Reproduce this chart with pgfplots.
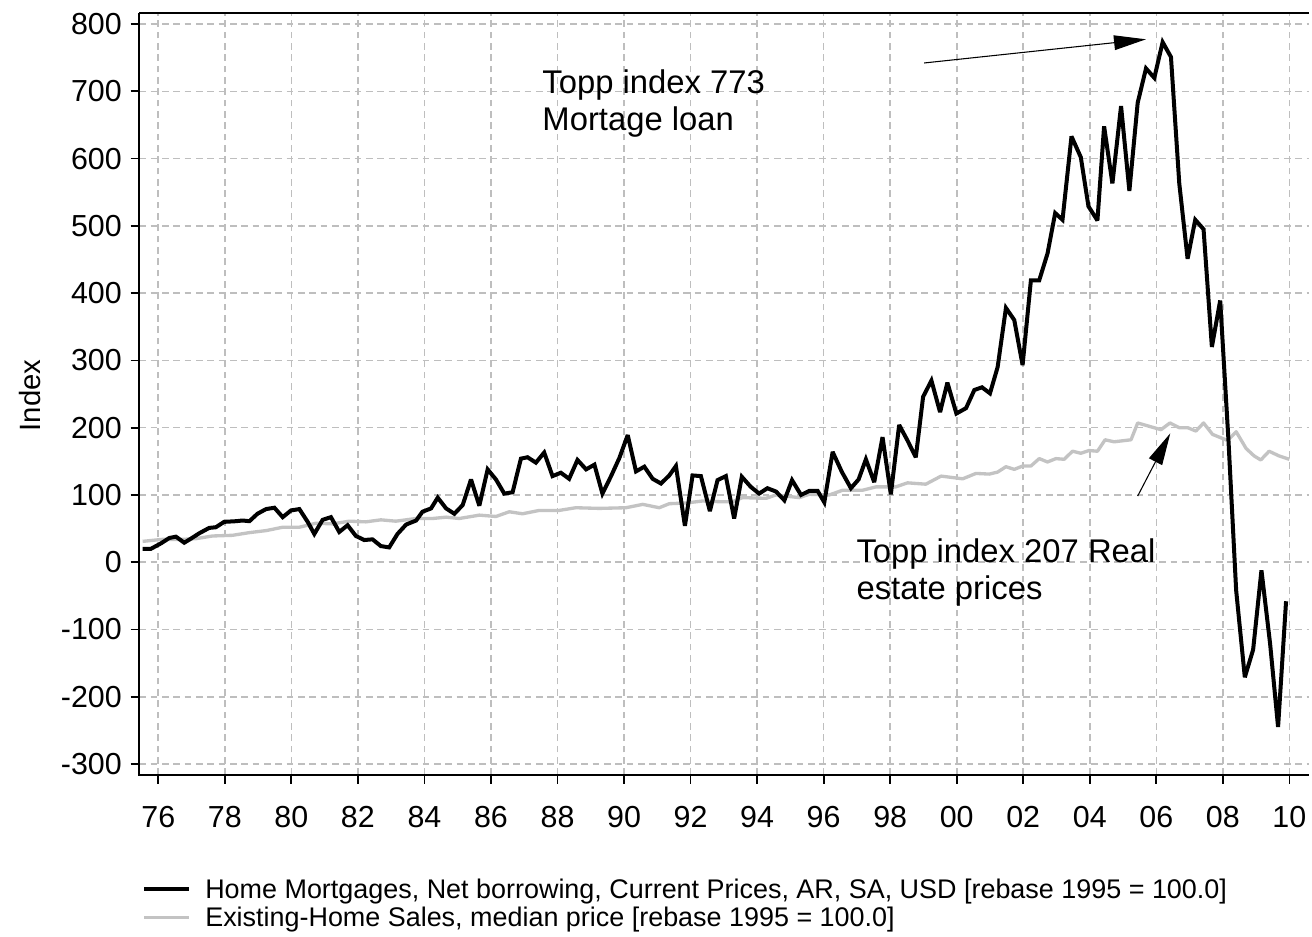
\documentclass[border=0pt]{standalone}
\usepackage{fontspec}
\setmainfont{Liberation Sans}
\usepackage{pgfplots}
\pgfplotsset{compat=1.18}
\usetikzlibrary{arrows.meta}
\definecolor{grayline}{RGB}{195,195,195}
\definecolor{gridc}{RGB}{190,190,190}
\begin{document}
\begin{tikzpicture}
\useasboundingbox (-104.5pt,-120.75pt) rectangle (879.5pt,581.25pt);
\begin{axis}[
  at={(0pt,0pt)}, anchor=south west,
  scale only axis, width=877.5pt, height=571.7pt,
  xmin=1975.43, xmax=2010.60, ymin=-316.3, ymax=816.8,
  clip=false,
  axis line style={draw=none},
  tick pos=left, tick align=outside, major tick length=6.5pt,
  tick style={black, line width=1.3pt},
  grid=major,
  major grid style={gridc, dash pattern=on 5pt off 3.5pt, line width=1.2pt},
  xtick={1976,1978,...,2010},
  xticklabels={76,78,80,82,84,86,88,90,92,94,96,98,00,02,04,06,08,10},
  ytick={-300,-200,...,800},
  yticklabels={-300,-200,-100,0,100,200,300,400,500,600,700,800},
  tick label style={font=\fontsize{22.8pt}{27pt}\selectfont},
  xticklabel style={anchor=north, inner sep=0pt, yshift=-16.5pt},
  yticklabel style={anchor=east, inner sep=0pt, xshift=-6.5pt},
  ylabel={Index},
  ylabel style={at={(axis description cs:-0.0934,0.498)}, anchor=center, font=\fontsize{22pt}{26pt}\selectfont},
  reverse legend,
  legend style={at={(axis description cs:0.0023,-0.1372)}, anchor=north west,
    draw=none, fill=none, inner sep=0pt, row sep=3pt, column sep=10.5pt,
    font=\fontsize{20.2pt}{21pt}\selectfont,
    nodes={inner sep=0pt, text height=14pt, text depth=4pt, anchor=base west}},
  legend cell align=left,
  legend image code/.code={\draw[#1] (0pt,7pt) -- (33.75pt,7pt);},
]
\addplot[grayline, line width=2.5pt, line join=round] coordinates {
(1975.53,31)(1976.13,34)(1976.73,34)(1977.13,35)(1977.63,39)(1978.23,40)(1978.74,44)(1979.24,47)(1979.74,52)(1980.24,52)(1980.74,58)(1981.24,57)(1981.74,61)(1982.24,60)(1982.69,63)(1983.14,61)(1983.75,65)(1984.25,65)(1984.65,67)(1985.05,65)(1985.65,70)(1986.15,68)(1986.55,75)(1986.95,72)(1987.45,77)(1988.05,77)(1988.55,81)(1989.26,80)(1990.06,81)(1990.56,86)(1991.06,81)(1991.36,87)(1991.86,88)(1992.36,91)(1992.86,90)(1993.26,90)(1993.56,96)(1994.27,95)(1994.57,100)(1995.27,96)(1995.57,101)(1996.17,100)(1996.57,107)(1997.17,107)(1997.57,112)(1998.17,112)(1998.52,118)(1999.07,116)(1999.53,128)(2000.18,124)(2000.58,132)(2000.98,131)(2001.23,134)(2001.48,142)(2001.73,138)(2001.98,143)(2002.23,143)(2002.48,154)(2002.73,149)(2002.98,154)(2003.23,153)(2003.48,165)(2003.73,162)(2003.98,166)(2004.23,165)(2004.46,182)(2004.73,179)(2005.24,182)(2005.44,207)(2006.14,197)(2006.41,207)(2006.69,200)(2006.94,200)(2007.19,195)(2007.42,207)(2007.69,190)(2008.14,181)(2008.40,194)(2008.70,169)(2008.94,158)(2009.14,152)(2009.39,165)(2009.69,158)(2010.0,153)
};
\addlegendentry{Existing-Home Sales, median price [rebase 1995 = 100.0]}
\addplot[black, line width=3pt, line join=miter, miter limit=3] coordinates {
(1975.53,20)(1975.78,20)(1976.08,28)(1976.33,36)(1976.53,38)(1976.78,29)(1976.98,35)(1977.23,43)(1977.53,51)(1977.73,52)(1977.98,60)(1978.34,61)(1978.53,62)(1978.74,61)(1978.98,72)(1979.24,79)(1979.49,81)(1979.74,67)(1979.99,77)(1980.24,79)(1980.49,60)(1980.69,42)(1980.94,63)(1981.19,67)(1981.44,45)(1981.69,55)(1981.94,39)(1982.19,33)(1982.44,34)(1982.69,24)(1982.94,22)(1983.19,42)(1983.45,56)(1983.75,62)(1983.94,75)(1984.20,80)(1984.40,96)(1984.65,80)(1984.90,72)(1985.15,85)(1985.40,123)(1985.65,84)(1985.90,138)(1986.15,123)(1986.40,102)(1986.65,104)(1986.90,154)(1987.10,156)(1987.35,148)(1987.60,163)(1987.85,128)(1988.10,133)(1988.35,124)(1988.60,152)(1988.86,138)(1989.11,145)(1989.35,102)(1989.61,128)(1989.86,155)(1990.11,189)(1990.36,135)(1990.61,142)(1990.86,124)(1991.11,117)(1991.36,129)(1991.56,143)(1991.83,54)(1992.06,129)(1992.31,128)(1992.58,76)(1992.81,122)(1993.06,128)(1993.31,65)(1993.54,127)(1993.81,112)(1994.06,102)(1994.31,110)(1994.57,105)(1994.82,92)(1995.05,122)(1995.32,100)(1995.57,106)(1995.82,106)(1996.02,89)(1996.27,164)(1996.55,134)(1996.82,110)(1997.05,123)(1997.27,153)(1997.52,119)(1997.77,186)(1998.02,101)(1998.27,204)(1998.52,181)(1998.77,156)(1998.99,246)(1999.24,270)(1999.50,223)(1999.72,267)(1999.99,221)(2000.28,229)(2000.53,256)(2000.76,260)(2001.00,251)(2001.23,290)(2001.48,378)(2001.73,360)(2001.98,293)(2002.23,419)(2002.48,419)(2002.73,459)(2002.96,519)(2003.18,509)(2003.45,633)(2003.73,602)(2003.96,529)(2004.23,508)(2004.43,648)(2004.68,563)(2004.94,678)(2005.19,552)(2005.44,683)(2005.69,734)(2005.94,720)(2006.19,773)(2006.44,751)(2006.69,563)(2006.94,451)(2007.17,509)(2007.42,495)(2007.67,320)(2007.92,389)(2008.17,180)(2008.40,-42)(2008.66,-171)(2008.91,-130)(2009.16,-12)(2009.42,-121)(2009.66,-245)(2009.90,-58)
};
\addlegendentry{Home Mortgages, Net borrowing, Current Prices, AR, SA, USD [rebase 1995 = 100.0]}
\draw[black, line width=1.5pt] (rel axis cs:0,1) -- (rel axis cs:0,0) -- (rel axis cs:1,0);
\draw[black, line width=1.5pt] (rel axis cs:0,1) -- (rel axis cs:1,1);
\node[anchor=base west, inner sep=0pt, font=\fontsize{24.6pt}{28pt}\selectfont] at (axis cs:1987.54,696.7) {Topp index 773};
\node[anchor=base west, inner sep=0pt, font=\fontsize{24.6pt}{28pt}\selectfont] at (axis cs:1987.54,641) {Mortage loan};
\node[anchor=base west, inner sep=0pt, font=\fontsize{24.6pt}{28pt}\selectfont] at (axis cs:1996.98,0) {Topp index 207 Real};
\node[anchor=base west, inner sep=0pt, font=\fontsize{24.6pt}{28pt}\selectfont] at (axis cs:1996.98,-55.4) {estate prices};
\draw[line width=0.8pt, -{Triangle[length=24pt,width=11pt]}] (axis cs:1999.02,742.1) -- (axis cs:2005.69,777.3);
\draw[line width=0.8pt, -{Triangle[length=24pt,width=11pt]}] (axis cs:2005.44,98.4) -- (axis cs:2006.42,191.6);
\end{axis}
\end{tikzpicture}
\end{document}
